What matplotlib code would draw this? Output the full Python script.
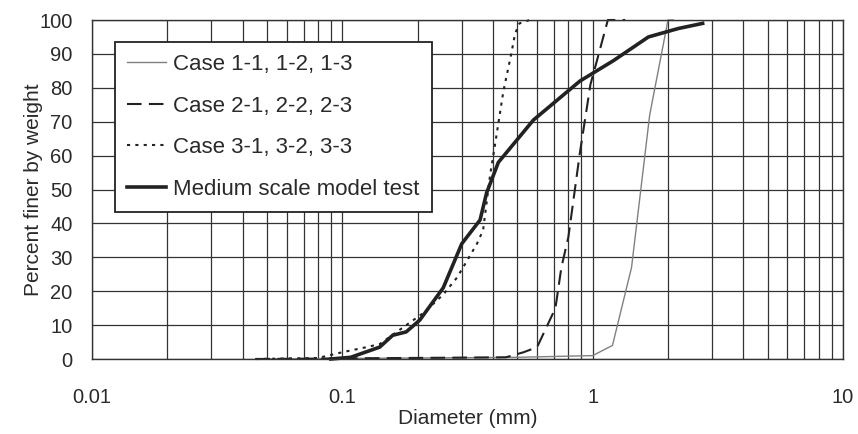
import numpy as np
import matplotlib.pyplot as plt
from matplotlib.ticker import LogLocator, FixedLocator, NullFormatter

plt.rcParams['font.family'] = ['Liberation Sans', 'DejaVu Sans']

# grain size curves (diameter mm, percent finer)
case1_d = [0.045, 0.5, 1.0, 1.2, 1.43, 1.69, 2.0, 2.1]
case1_p = [0, 0.5, 1, 4, 27, 72, 100, 100]

case2_d = [0.045, 0.45, 0.53, 0.6, 0.71, 0.75, 0.80, 0.89, 0.98, 1.04, 1.15, 1.35]
case2_p = [0, 0.5, 2, 3.5, 15, 27, 36, 61, 81, 88, 100, 100]

case3_d = [0.045, 0.08, 0.1, 0.125, 0.141, 0.21, 0.253, 0.287, 0.315, 0.345, 0.365,
           0.389, 0.415, 0.44, 0.47, 0.49, 0.51, 0.56]
case3_p = [0, 0.3, 2, 3.5, 4.4, 13.5, 19, 24, 29, 34, 38, 54, 67, 79, 89, 96, 99, 100]

medium_d = [0.09, 0.108, 0.141, 0.159, 0.18, 0.204, 0.253, 0.30, 0.355, 0.377, 0.42,
            0.58, 0.89, 1.21, 1.67, 2.2, 2.75]
medium_p = [0, 0.5, 3.5, 7, 8, 11.5, 21, 34, 41, 49, 58, 70.5, 82, 88, 95, 97.5, 99]

labels = ['Case 1-1, 1-2, 1-3', 'Case 2-1, 2-2, 2-3',
          'Case 3-1, 3-2, 3-3', 'Medium scale model test']

fig = plt.figure(figsize=(8.58, 4.34), dpi=100)
ax = fig.add_axes([0.1072, 0.1728, 0.8753, 0.7811])

ax.plot(case1_d, case1_p, color='#808080', lw=1.0, label=labels[0], clip_on=False)
ax.plot(case2_d, case2_p, color='#222222', lw=1.5, ls=(0, (7, 3.5)), label=labels[1], clip_on=False)
ax.plot(case3_d, case3_p, color='#222222', lw=1.5, ls=(0, (1.5, 2.5)), label=labels[2], clip_on=False)
ax.plot(medium_d, medium_p, color='#222222', lw=2.6, label=labels[3], clip_on=False)

ax.set_xscale('log')
ax.set_xlim(0.01, 10)
ax.set_ylim(0, 100)
ax.set_yticks(np.arange(0, 101, 10))
ax.xaxis.set_major_locator(FixedLocator([0.01, 0.1, 1, 10]))
ax.xaxis.set_minor_locator(LogLocator(base=10, subs=np.arange(2, 10)))
ax.xaxis.set_minor_formatter(NullFormatter())
ax.set_xticklabels(['0.01', '0.1', '1', '10'])

ax.grid(True, which='both', axis='x', color='#333333', lw=0.9)
ax.grid(True, which='major', axis='y', color='#333333', lw=0.9)
ax.tick_params(which='both', length=0, labelsize=14.5, colors='#2a2a2a')
ax.tick_params(axis='x', pad=21)
ax.tick_params(axis='y', pad=14)
for s in ax.spines.values():
    s.set_color('#333333')
    s.set_linewidth(1.0)

ax.set_xlabel('Diameter (mm)', fontsize=15, color='#2a2a2a', labelpad=1)
ax.set_ylabel('Percent finer by weight', fontsize=15, color='#2a2a2a', labelpad=-3)

leg = ax.legend(loc='upper left', bbox_to_anchor=(0.031, 0.935), fontsize=16,
                frameon=True, fancybox=False, framealpha=1, edgecolor='#222222',
                handlelength=1.75, handletextpad=0.3, labelspacing=0.92,
                borderpad=0.55, borderaxespad=0)
leg.get_frame().set_linewidth(1.3)
for t in leg.get_texts():
    t.set_color('#2a2a2a')

fig.savefig('out.png', dpi=100)
